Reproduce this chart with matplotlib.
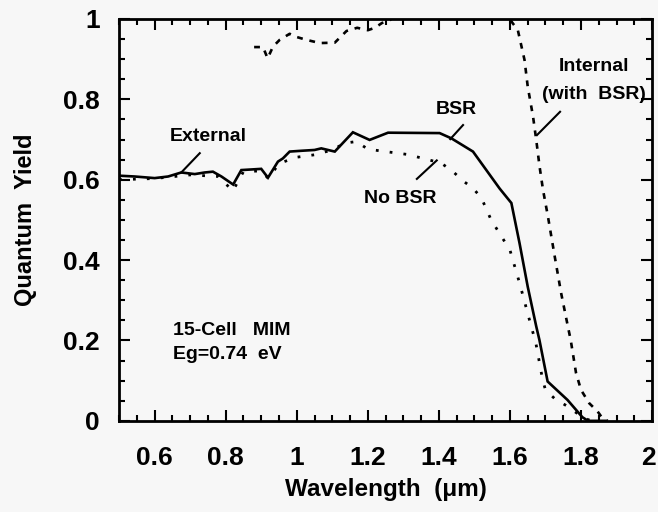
import matplotlib
matplotlib.use("Agg")
import matplotlib.pyplot as plt
import matplotlib.transforms as mtransforms
from matplotlib.ticker import MultipleLocator

plt.rcParams['font.family'] = ['Liberation Sans', 'DejaVu Sans']

# External QE with back-surface reflector (solid)
bsr_x = [0.50, 0.544, 0.60, 0.638, 0.675, 0.713, 0.741, 0.764, 0.788, 0.821, 0.844,
         0.882, 0.90, 0.919, 0.947, 0.961, 0.98, 1.013, 1.05, 1.069, 1.107, 1.158,
         1.205, 1.257, 1.402, 1.435, 1.496, 1.571, 1.604, 1.627, 1.65, 1.674, 1.683,
         1.706, 1.762, 1.804, 1.82, 1.87]
bsr_y = [0.610, 0.608, 0.604, 0.608, 0.618, 0.614, 0.618, 0.620, 0.608, 0.588, 0.624,
         0.626, 0.627, 0.605, 0.645, 0.653, 0.670, 0.672, 0.674, 0.678, 0.670, 0.718,
         0.699, 0.717, 0.716, 0.703, 0.670, 0.578, 0.542, 0.442, 0.334, 0.235, 0.201,
         0.098, 0.052, 0.009, 0.0, 0.0]

# External QE without BSR (dotted)
nobsr_x = [0.50, 0.60, 0.70, 0.78, 0.82, 0.85, 0.90, 0.92, 0.95, 0.98, 1.0, 1.05,
           1.10, 1.135, 1.168, 1.20, 1.25, 1.31, 1.365, 1.407, 1.44, 1.468, 1.496,
           1.52, 1.547, 1.60, 1.627, 1.655, 1.673, 1.692, 1.70, 1.725, 1.762, 1.795,
           1.814, 1.83]
nobsr_y = [0.600, 0.603, 0.612, 0.608, 0.572, 0.620, 0.622, 0.603, 0.640, 0.650, 0.656,
           0.662, 0.674, 0.691, 0.695, 0.676, 0.670, 0.663, 0.651, 0.641, 0.620, 0.597,
           0.579, 0.554, 0.500, 0.425, 0.343, 0.251, 0.193, 0.102, 0.077, 0.056, 0.036,
           0.015, 0.005, 0.0]

# Internal QE (with BSR) (dashed)
int_x = [0.88, 0.905, 0.918, 0.933, 0.952, 0.98, 1.0, 1.027, 1.065, 1.107, 1.14,
         1.17, 1.20, 1.22, 1.24, 1.26, 1.28, 1.59, 1.608, 1.622, 1.641, 1.65, 1.665,
         1.674, 1.683, 1.693, 1.707, 1.726, 1.744, 1.763, 1.771, 1.786, 1.80, 1.823,
         1.847, 1.86, 1.875]
int_y = [0.930, 0.930, 0.902, 0.931, 0.948, 0.963, 0.955, 0.948, 0.940, 0.941, 0.970,
         0.978, 0.972, 0.978, 0.990, 0.995, 1.012, 1.012, 0.989, 0.973, 0.898, 0.832, 0.757,
         0.699, 0.635, 0.575, 0.508, 0.409, 0.318, 0.235, 0.201, 0.119, 0.077, 0.044,
         0.023, 0.007, 0.0]

xticks = [0.6, 0.8, 1.0, 1.2, 1.4, 1.6, 1.8, 2.0]
xticklabels = ["0.6", "0.8", "1", "1.2", "1.4", "1.6", "1.8", "2"]
yticks = [0, 0.2, 0.4, 0.6, 0.8, 1.0]
yticklabels = ["0", "0.2", "0.4", "0.6", "0.8", "1"]

bg = '#f7f7f7'
fig = plt.figure(figsize=(6.58, 5.12), dpi=100, facecolor=bg)
ax = fig.add_axes([0.181, 0.178, 0.810, 0.785], facecolor=bg)

ax.plot(bsr_x, bsr_y, color='black', lw=1.9, solid_joinstyle='miter')
ax.plot(nobsr_x, nobsr_y, color='black', lw=2.0, linestyle=(0, (1, 4)))
ax.plot(int_x, int_y, color='black', lw=1.9, linestyle=(0, (2.2, 2.6)))

ax.set_xlim(0.5, 2.0)
ax.set_ylim(0, 1.0)
ax.set_xticks(xticks)
ax.set_xticklabels(xticklabels)
ax.set_yticks(yticks)
ax.set_yticklabels(yticklabels)
ax.xaxis.set_minor_locator(MultipleLocator(0.05))
ax.yaxis.set_minor_locator(MultipleLocator(0.05))
ax.tick_params(which='both', direction='in', top=True, right=True, width=1.5)
ax.tick_params(which='major', length=8, labelsize=19)
ax.tick_params(which='minor', length=4)
ax.tick_params(axis='x', which='major', pad=18)
ax.tick_params(axis='y', which='major', pad=14)
for lab in ax.get_xticklabels() + ax.get_yticklabels():
    lab.set_fontweight('bold')
last = ax.get_xticklabels()[-1]
last.set_transform(last.get_transform() +
                   mtransforms.ScaledTranslation(-4 / 100, 0, fig.dpi_scale_trans))
for s in ax.spines.values():
    s.set_linewidth(2.0)

ax.set_xlabel("Wavelength  (\u03bcm)", fontsize=17.5, fontweight='bold', labelpad=6)
ax.set_ylabel("Quantum  Yield", fontsize=17, fontweight='bold', labelpad=19)

tk = dict(fontsize=14, fontweight='bold', color='black')
ax.text(0.751, 0.707, "External", ha='center', va='center', **tk)
ax.plot([0.727, 0.675], [0.666, 0.618], color='black', lw=1.5)
ax.text(1.449, 0.774, "BSR", ha='center', va='center', **tk)
ax.plot([1.468, 1.432], [0.736, 0.701], color='black', lw=1.5)
ax.text(1.29, 0.554, "No BSR", ha='center', va='center', **tk)
ax.plot([1.338, 1.394], [0.602, 0.648], color='black', lw=1.5)
ax.text(1.837, 0.881, "Internal", ha='center', va='center', **tk)
ax.text(1.837, 0.813, "(with  BSR)", ha='center', va='center', **tk)
ax.plot([1.741, 1.676], [0.769, 0.711], color='black', lw=1.5)
ax.text(0.652, 0.226, "15-Cell   MIM", ha='left', va='center', **tk)
ax.text(0.652, 0.164, "Eg=0.74  eV", ha='left', va='center', **tk)

fig.savefig("out.png", dpi=100, facecolor=bg)
